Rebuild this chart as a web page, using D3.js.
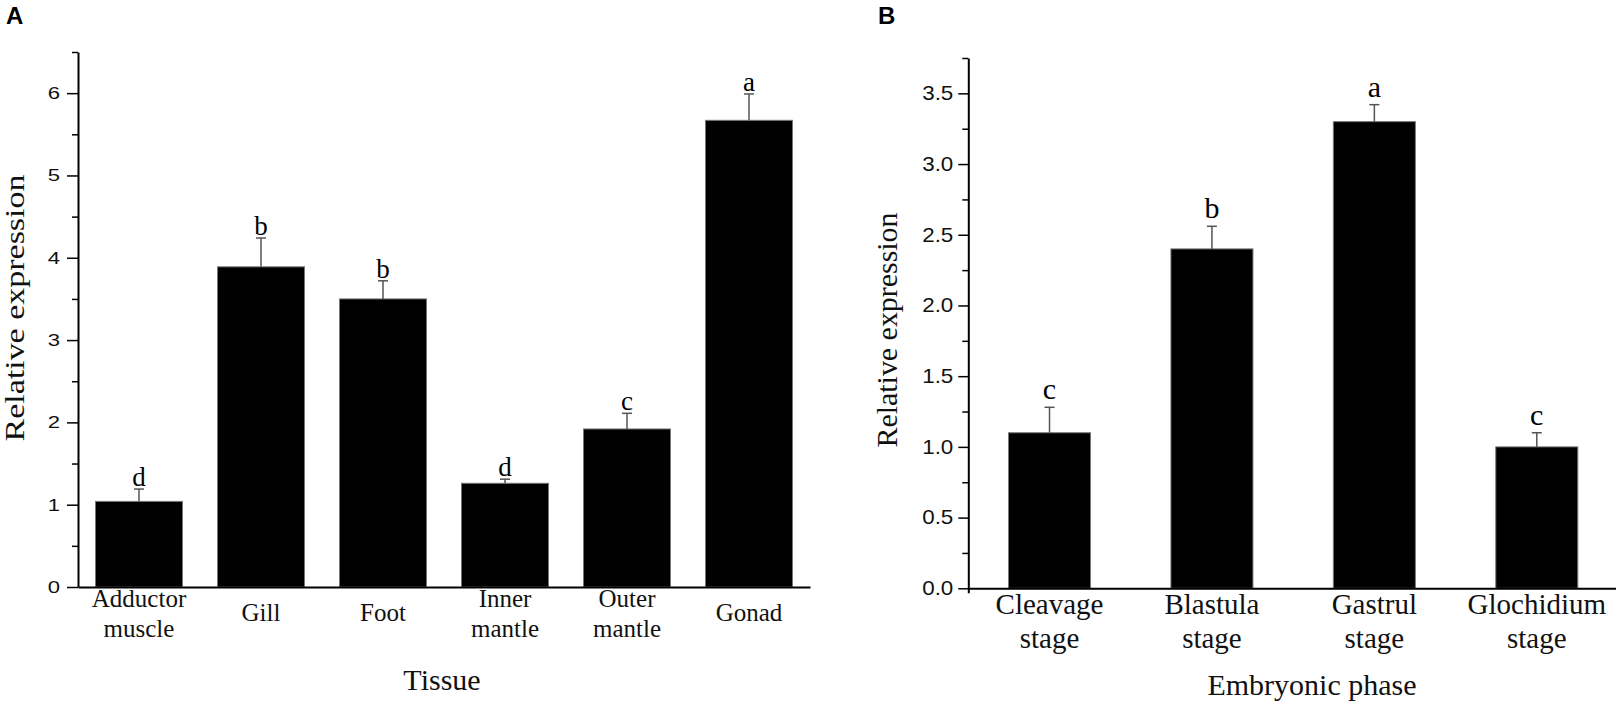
<!DOCTYPE html>
<html>
<head>
<meta charset="utf-8">
<script src="https://cdn.jsdelivr.net/npm/d3@7"></script>
<style>
    body { margin: 0; background: #fff; }
    svg { display: block; }
</style>
</head>
<body>
<svg width="1616" height="703"></svg>
<script>
// panel A data
var tissues = [['Adductor', 'muscle'], ['Gill'], ['Foot'], ['Inner', 'mantle'], ['Outer', 'mantle'], ['Gonad']];
var tissueMean = [1.04, 3.89, 3.50, 1.26, 1.92, 5.67];
var tissueErr = [0.15, 0.35, 0.22, 0.05, 0.19, 0.32];
var tissueSig = ['d', 'b', 'b', 'd', 'c', 'a'];
var tissueTicks = [0, 1, 2, 3, 4, 5, 6];
var tissueMinor = [0.5, 1.5, 2.5, 3.5, 4.5, 5.5, 6.5];

// panel B data
var phases = [['Cleavage', 'stage'], ['Blastula', 'stage'], ['Gastrul', 'stage'], ['Glochidium', 'stage']];
var phaseMean = [1.10, 2.40, 3.30, 1.00];
var phaseErr = [0.18, 0.16, 0.12, 0.10];
var phaseSig = ['c', 'b', 'a', 'c'];
var phaseTicks = [0, 0.5, 1.0, 1.5, 2.0, 2.5, 3.0, 3.5];
var phaseMinor = [0.25, 0.75, 1.25, 1.75, 2.25, 2.75, 3.25, 3.75];

var serif = '"Liberation Serif", "Times New Roman", serif';
var sans = '"Liberation Sans", Arial, sans-serif';

var svg = d3.select('svg');

function drawPanel(opt){
    var names = opt.cats.map(function(c){ return c.join(' '); });
    var ScaleX = d3.scaleBand().domain(names).range(opt.xRange)
        .paddingInner(opt.pad).paddingOuter(opt.pad / 2);
    var ScaleY = d3.scaleLinear().domain(opt.yDomain).range(opt.yRange);
    var g = svg.append('g');

    // bars
    g.selectAll('rect.bar')
        .data(opt.mean)
        .enter()
        .append('rect')
        .attr('class', 'bar')
        .attr('x', function(d, i){ return ScaleX(names[i]); })
        .attr('width', ScaleX.bandwidth())
        .attr('y', function(d){ return ScaleY(d); })
        .attr('height', function(d){ return ScaleY(0) - ScaleY(d); })
        .attr('fill', '#000')
        .attr('stroke', '#777')
        .attr('stroke-width', 1);

    // error bars
    var cx = function(i){ return ScaleX(names[i]) + ScaleX.bandwidth() / 2; };
    g.selectAll('line.err')
        .data(opt.mean)
        .enter()
        .append('line')
        .attr('x1', function(d, i){ return cx(i); })
        .attr('x2', function(d, i){ return cx(i); })
        .attr('y1', function(d){ return ScaleY(d); })
        .attr('y2', function(d, i){ return ScaleY(d + opt.err[i]); })
        .attr('stroke', '#555')
        .attr('stroke-width', 1.5);
    g.selectAll('line.cap')
        .data(opt.mean)
        .enter()
        .append('line')
        .attr('x1', function(d, i){ return cx(i) - 5; })
        .attr('x2', function(d, i){ return cx(i) + 5; })
        .attr('y1', function(d, i){ return ScaleY(d + opt.err[i]); })
        .attr('y2', function(d, i){ return ScaleY(d + opt.err[i]); })
        .attr('stroke', '#555')
        .attr('stroke-width', 1.5);

    // significance letters
    g.selectAll('text.sig')
        .data(opt.sig)
        .enter()
        .append('text')
        .attr('x', function(d, i){ return cx(i); })
        .attr('y', function(d, i){ return ScaleY(opt.mean[i] + opt.err[i]) - opt.sigGap; })
        .attr('text-anchor', 'middle')
        .attr('font-family', serif)
        .attr('font-size', opt.sigSize)
        .text(function(d){ return d; });

    // y axis, minor then major
    g.append('g')
        .attr('transform', 'translate(' + opt.xRange[0] + ',0)')
        .call(d3.axisLeft(ScaleY).tickValues(opt.minor).tickSize(6).tickSizeOuter(0).tickFormat(''))
        .call(function(a){ a.select('.domain').remove(); });
    var yAxis = g.append('g')
        .attr('transform', 'translate(' + opt.xRange[0] + ',0)')
        .call(d3.axisLeft(ScaleY).tickValues(opt.ticks).tickSize(opt.tickLen).tickSizeOuter(0)
            .tickPadding(opt.tickPad).tickFormat(d3.format(opt.fmt)));
    // the tick numbers are a bit wider than plain Arial in the figure
    yAxis.selectAll('.tick text')
        .attr('x', 0)
        .attr('transform', 'translate(' + (-opt.tickLen - opt.tickPad) + ',0) scale(' + opt.tickStretch + ',1)')
        .attr('font-family', sans)
        .attr('font-size', opt.tickFont)
        .attr('fill', '#111');
    g.selectAll('.tick line').attr('stroke-width', 1.5);
    yAxis.select('.domain').attr('stroke-width', 2);

    // x axis
    var xAxis = g.append('g')
        .attr('transform', 'translate(0,' + ScaleY(0) + ')')
        .call(d3.axisBottom(ScaleX).tickSizeInner(0).tickSizeOuter(opt.outer).tickFormat(''));
    xAxis.select('.domain').attr('stroke-width', 2);

    var lab = g.selectAll('text.cat')
        .data(opt.cats)
        .enter()
        .append('text')
        .attr('text-anchor', 'middle')
        .attr('font-family', serif)
        .attr('font-size', opt.catSize)
        .attr('fill', '#111')
        .attr('transform', function(d, i){
            var y = d.length > 1 ? opt.catY[0] : opt.catY[2];
            return 'translate(' + cx(i) + ',' + y + ')';
        });
    lab.selectAll('tspan')
        .data(function(d){ return d; })
        .enter()
        .append('tspan')
        .attr('x', 0)
        .attr('y', function(d, j){ return j * (opt.catY[1] - opt.catY[0]); })
        .text(function(d){ return d; });

    // titles
    g.append('text')
        .attr('x', opt.xTitle[0])
        .attr('y', opt.xTitle[1])
        .attr('text-anchor', 'middle')
        .attr('font-family', serif)
        .attr('font-size', 30)
        .attr('fill', '#111')
        .text(opt.xLabel);
    g.append('text')
        .attr('transform', 'translate(' + opt.yTitle[0] + ',' + opt.yTitle[1] + ') rotate(270)')
        .attr('text-anchor', 'middle')
        .attr('font-family', serif)
        .attr('font-size', opt.yTitle[2])
        .attr('textLength', opt.yTitle[3])
        .attr('lengthAdjust', 'spacingAndGlyphs')
        .attr('fill', '#111')
        .text('Relative expression');
    g.append('text')
        .attr('x', opt.panel[1])
        .attr('y', 24)
        .attr('font-family', sans)
        .attr('font-weight', 'bold')
        .attr('font-size', 24)
        .text(opt.panel[0]);
}

drawPanel({
    cats: tissues, mean: tissueMean, err: tissueErr, sig: tissueSig,
    ticks: tissueTicks, minor: tissueMinor, fmt: 'd',
    xRange: [78, 810], pad: 0.287, yDomain: [0, 6.5], yRange: [587, 52],
    tickLen: 11, tickPad: 7, tickFont: 17, tickStretch: 1.3, outer: 0,
    sigGap: 3, sigSize: 27, catSize: 25, catY: [607, 637, 621],
    xLabel: 'Tissue', xTitle: [442, 690], yTitle: [24, 308, 27, 267], panel: ['A', 6]
});

drawPanel({
    cats: phases, mean: phaseMean, err: phaseErr, sig: phaseSig,
    ticks: phaseTicks, minor: phaseMinor, fmt: '.1f',
    xRange: [968.3, 1618], pad: 0.495, yDomain: [0, 3.75], yRange: [588.3, 58],
    tickLen: 10, tickPad: 5, tickFont: 20, tickStretch: 1.12, outer: 5,
    sigGap: 8, sigSize: 30, catSize: 29, catY: [614, 648, 630],
    xLabel: 'Embryonic phase', xTitle: [1312, 695], yTitle: [897, 330, 30, 235], panel: ['B', 878]
});
</script>
</body>
</html>
